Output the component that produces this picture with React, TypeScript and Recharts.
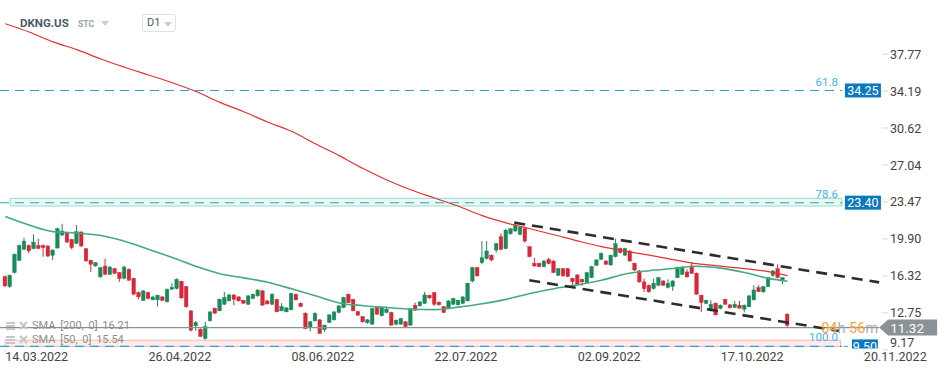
import React from "react";
import {
  ComposedChart,
  Bar,
  Line,
  XAxis,
  YAxis,
  ReferenceLine,
  ReferenceArea,
  ReferenceDot,
} from "recharts";

// ---------- DATA ----------
const DATE_TICKS = [0, 30, 60, 90, 120, 150, 180];
const DATE_LABELS = [
  "14.03.2022",
  "26.04.2022",
  "08.06.2022",
  "22.07.2022",
  "02.09.2022",
  "17.10.2022",
  "20.11.2022",
];
const PRICE_TICKS = [9.17, 12.75, 16.32, 19.9, 23.47, 27.04, 30.62, 34.19, 37.77];

// [open, high, low, close] per daily bar
const OHLC: number[][] = [
  [16.25, 16.35, 15.25, 15.35], [15.29, 16.45, 15.16, 16.38], [16.64, 18.5, 16.55, 18.41], [17.83, 19.35, 17.75, 19.27],
  [18.89, 20.01, 18.8, 19.69], [19.27, 19.35, 18.5, 18.73], [18.95, 20.33, 18.9, 19.59], [19.27, 19.92, 18.9, 18.98],
  [19.27, 19.35, 18.18, 19.05], [19.21, 19.3, 18.15, 18.24], [18.31, 18.9, 17.86, 18.82], [19.02, 21.0, 18.95, 20.88],
  [20.27, 21.36, 20.2, 20.66], [20.46, 20.6, 19.5, 19.59], [19.85, 19.9, 18.89, 19.05], [19.47, 21.23, 19.4, 20.59],
  [20.56, 20.65, 19.1, 19.21], [18.95, 19.0, 17.7, 17.76], [17.83, 17.9, 16.7, 17.44], [17.28, 17.65, 17.2, 17.6],
  [16.22, 17.2, 16.15, 17.12], [17.28, 17.99, 16.4, 16.47], [16.47, 17.25, 16.4, 17.18], [17.02, 17.1, 16.5, 16.57],
  [16.64, 16.7, 15.74, 16.06], [16.09, 17.3, 16.0, 17.18], [16.96, 17.05, 15.85, 15.9], [16.09, 16.15, 14.45, 14.55],
  [14.71, 14.8, 14.06, 14.29], [13.94, 14.95, 13.9, 14.87], [14.71, 14.8, 14.05, 14.13], [14.0, 14.35, 13.95, 14.29],
  [14.0, 14.5, 13.36, 14.45], [14.29, 14.35, 13.9, 13.94], [13.81, 15.1, 13.75, 15.03], [15.03, 15.61, 14.98, 15.22],
  [15.09, 16.09, 15.0, 15.99], [15.8, 15.85, 14.1, 14.19], [15.29, 15.35, 13.25, 13.33], [12.94, 13.0, 10.95, 11.07],
  [11.49, 11.97, 11.01, 11.81], [11.17, 11.25, 10.4, 10.46], [10.27, 11.88, 10.15, 11.43], [11.98, 12.9, 11.9, 12.84],
  [13.2, 13.26, 12.65, 12.71], [12.94, 14.13, 12.9, 14.06], [13.58, 14.77, 13.5, 14.23], [13.9, 14.6, 13.85, 14.48],
  [14.48, 14.55, 13.49, 14.06], [14.29, 14.35, 13.85, 13.9], [13.97, 14.0, 13.6, 13.68], [13.58, 14.45, 13.5, 14.39],
  [14.13, 14.6, 14.06, 14.55], [14.39, 15.0, 14.3, 14.96], [14.87, 14.95, 13.45, 13.49], [13.9, 14.0, 13.55, 13.61],
  [13.58, 14.65, 13.5, 14.55], [14.06, 14.1, 12.8, 12.84], [12.94, 13.68, 12.9, 13.36], [12.84, 13.3, 12.8, 13.23],
  [13.04, 14.7, 13.0, 14.64], [14.55, 14.6, 13.95, 14.0], [13.68, 13.75, 13.3, 13.36], [12.71, 12.8, 11.15, 11.23],
  [11.33, 11.95, 10.95, 11.88], [11.97, 12.8, 11.9, 12.71], [12.07, 12.14, 10.7, 10.75], [11.11, 11.6, 10.91, 11.56],
  [11.81, 12.6, 11.75, 12.55], [12.07, 12.9, 12.0, 12.84], [12.78, 13.5, 12.7, 13.42], [13.26, 14.3, 13.2, 14.23],
  [14.55, 14.61, 13.7, 13.74], [14.06, 14.1, 12.9, 12.94], [12.87, 12.95, 12.45, 12.52], [12.39, 12.45, 11.8, 11.88],
  [11.78, 12.15, 11.7, 12.07], [11.65, 13.2, 11.6, 13.16], [13.26, 13.4, 12.55, 12.62], [12.46, 13.3, 12.4, 13.26],
  [12.78, 13.36, 12.7, 13.1], [12.78, 12.85, 11.5, 11.56], [11.65, 12.1, 11.55, 12.04], [11.65, 12.25, 11.6, 12.2],
  [11.88, 11.95, 11.38, 11.43], [11.56, 13.2, 11.5, 13.16], [13.49, 13.74, 12.95, 13.0], [13.42, 13.85, 13.35, 13.81],
  [13.65, 14.77, 13.6, 14.48], [14.45, 14.5, 14.1, 14.19], [14.71, 14.75, 13.42, 13.58], [13.78, 13.85, 13.45, 13.52],
  [13.36, 13.4, 12.72, 12.78], [13.16, 13.95, 13.1, 13.9], [13.58, 14.2, 13.5, 14.13], [13.52, 14.0, 13.45, 13.97],
  [13.65, 14.35, 13.6, 14.29], [13.9, 15.67, 13.85, 15.61], [15.83, 17.2, 15.67, 17.12], [17.12, 17.2, 16.25, 16.32],
  [17.6, 19.69, 17.44, 18.08], [17.99, 19.69, 17.9, 18.73], [18.31, 18.4, 17.73, 17.86], [18.82, 19.5, 18.57, 19.43],
  [20.11, 20.43, 18.8, 18.89], [18.95, 20.88, 18.9, 20.75], [20.4, 20.95, 20.3, 20.88], [20.66, 21.52, 20.6, 21.2],
  [20.33, 21.1, 20.25, 21.04], [20.88, 20.95, 19.53, 19.69], [19.14, 19.2, 18.1, 18.18], [17.54, 18.08, 17.2, 17.28],
  [17.54, 17.6, 17.15, 17.22], [17.22, 17.85, 17.15, 17.76], [17.92, 18.08, 17.45, 17.5], [17.76, 17.85, 16.6, 16.64],
  [16.38, 17.1, 16.3, 17.02], [17.02, 17.1, 16.25, 16.32], [17.02, 17.1, 16.2, 16.25], [16.09, 16.15, 15.42, 15.77],
  [16.41, 16.5, 15.45, 15.51], [15.99, 16.05, 15.35, 15.74], [15.67, 16.7, 15.6, 16.64], [16.15, 17.3, 16.1, 17.22],
  [17.34, 17.95, 17.3, 17.86], [17.92, 18.6, 17.85, 18.5], [17.76, 17.85, 17.38, 17.44], [17.38, 18.4, 17.3, 18.31],
  [18.18, 19.92, 18.1, 19.43], [18.98, 19.05, 18.5, 18.57], [18.31, 19.05, 18.25, 18.98], [18.73, 18.8, 17.7, 17.76],
  [17.54, 17.6, 16.8, 16.89], [16.8, 16.9, 15.65, 15.74], [15.74, 16.06, 14.77, 15.09], [15.42, 15.5, 14.7, 14.77],
  [15.09, 16.06, 15.0, 15.61], [15.42, 16.2, 15.35, 16.15], [15.83, 15.9, 15.35, 15.42], [15.19, 15.99, 15.1, 15.61],
  [15.29, 15.9, 14.87, 15.83], [16.15, 17.2, 16.1, 17.12], [16.47, 17.25, 16.4, 17.18], [16.7, 16.96, 16.15, 16.22],
  [17.28, 17.66, 16.5, 16.57], [16.57, 16.65, 14.5, 14.55], [14.45, 14.5, 12.84, 13.74], [13.65, 14.0, 13.6, 13.97],
  [12.94, 13.97, 12.9, 13.58], [13.68, 13.75, 12.5, 12.55], [13.17, 13.55, 13.1, 13.49], [14.06, 14.1, 13.5, 13.58],
  [13.52, 13.6, 13.15, 13.23], [13.26, 13.9, 13.2, 13.58], [13.49, 13.9, 13.15, 13.2], [13.1, 13.55, 12.78, 13.49],
  [13.33, 14.45, 13.3, 14.39], [14.0, 15.42, 13.95, 14.96], [15.19, 15.42, 14.75, 14.8], [14.77, 15.35, 14.7, 15.29],
  [15.29, 16.2, 15.25, 16.15], [16.38, 16.9, 16.25, 16.8], [17.02, 17.44, 16.1, 16.15], [15.83, 16.2, 15.51, 16.15],
  [12.62, 12.7, 11.32, 11.55],
];

const SMA_INDEX = [0, 5, 10, 15, 20, 25, 30, 35, 40, 45, 50, 55, 60, 65, 70, 75, 80, 85, 90, 95, 100, 105, 110, 115, 120, 125, 130, 135, 140, 145, 150, 155, 160, 164];
const SMA200 = [40.7, 39.9, 38.95, 38.2, 37.3, 36.5, 35.75, 35.0, 34.15, 33.1, 32.2, 31.2, 30.3, 29.1, 27.95, 26.7, 25.6, 24.65, 23.85, 23.05, 22.15, 21.45, 20.88, 20.3, 19.7, 19.15, 18.72, 18.32, 17.9, 17.5, 17.26, 17.03, 16.74, 16.35];
const SMA50 = [22.07, 21.24, 20.6, 20.46, 20.23, 19.67, 18.9, 18.1, 17.24, 16.53, 16.13, 15.7, 15.07, 14.4, 13.7, 13.44, 13.26, 13.1, 13.06, 13.3, 13.62, 14.05, 14.62, 15.08, 15.45, 15.9, 16.5, 16.82, 17.03, 17.25, 17.07, 16.65, 16.08, 15.8];

const FIB_PRICES = [34.25, 23.4, 9.5];
const FIB_RATIOS = ["61.8", "78.6", "100.0"];
const LAST_PRICE = 11.32;
const SMA200_LAST = 16.21;
const SMA50_LAST = 15.54;
const UPPER_CHANNEL = [
  { x: 106.7, y: 21.47 },
  { x: 183.2, y: 15.69 },
];
const LOWER_CHANNEL = [
  { x: 109.85, y: 15.9 },
  { x: 174.8, y: 11.0 },
];
const FIB_END = 175.4;
const X_MIN = -1.11;
const X_MAX = 183.8;

// ---------- STYLE ----------
const GREEN = "#1b8a5a";
const RED = "#d62839";
const FONT = "Roboto, 'Noto Sans', sans-serif";

const data: any[] = OHLC.map(([o, h, l, c], i) => ({ i, open: o, high: h, low: l, close: c }));
SMA_INDEX.forEach((k, j) => {
  data[k].sma200 = SMA200[j];
  data[k].sma50 = SMA50[j];
});

const Candle = (props: any) => {
  const { x, y, width, height, payload } = props;
  if (!payload) return null;
  const { open, high, low, close } = payload;
  const top = Math.min(y, y + height);
  const h = Math.abs(height);
  const ppu = h / Math.max(high - low, 0.0001);
  const cx = x + width / 2;
  const yO = top + (high - open) * ppu;
  const yC = top + (high - close) * ppu;
  const up = close >= open;
  const color = up ? GREEN : RED;
  const bTop = Math.min(yO, yC);
  const bH = Math.max(1, Math.abs(yO - yC));
  return (
    <g>
      <line x1={cx} x2={cx} y1={top} y2={top + h} stroke={color} strokeWidth={1} />
      <rect x={cx - 1.8} y={bTop} width={3.6} height={bH} fill={color} stroke={color} strokeWidth={0.4} />
    </g>
  );
};

const YTick = (p: any) => {
  const { x, y, payload } = p;
  const yy = Math.min(y, 342);
  return (
    <text x={x} y={yy} dy={4.5} textAnchor="start" fill="#444" fontSize={12.5} fontFamily={FONT}>
      {Number(payload.value).toFixed(2)}
    </text>
  );
};

const XTick = (p: any) => {
  const { x, y, payload } = p;
  const idx = DATE_TICKS.indexOf(payload.value);
  return (
    <text x={x} y={y} dy={6} textAnchor="start" fill="#444" fontSize={12.5} fontFamily={FONT}>
      {DATE_LABELS[idx]}
    </text>
  );
};

const FibTag = (ratio: string, price: number, small: boolean) => (props: any) => {
  const { cx, cy } = props;
  if (cx == null || cy == null) return null;
  const id = "clip" + ratio.replace(".", "");
  return (
    <g>
      <text x={cx - 4} y={cy - (small ? 5.5 : 4.5)} textAnchor="end" fill="#43b2ee" fontSize={11.5} fontFamily={FONT}>
        {ratio}
      </text>
      {small ? (
        <g>
          <defs>
            <clipPath id={id}>
              <rect x={cx} y={cy - 8} width={50} height={10} />
            </clipPath>
          </defs>
          <line x1={cx + 2} x2={cx + 6} y1={cy} y2={cy} stroke="#2a9fd8" />
          <g clipPath={`url(#${id})`}>
            <rect x={cx + 10} y={cy - 7} width={26} height={14} fill="#0b79bf" />
            <text x={cx + 23} y={cy + 4.5} textAnchor="middle" fill="#fff" fontSize={12.5} fontFamily={FONT}>
              {price.toFixed(2)}
            </text>
          </g>
        </g>
      ) : (
        <g>
          <rect x={cx + 3} y={cy - 7} width={36} height={14} fill="#0b79bf" />
          <text x={cx + 21} y={cy + 4.5} textAnchor="middle" fill="#fff" fontSize={12.5} fontFamily={FONT}>
            {price.toFixed(2)}
          </text>
        </g>
      )}
    </g>
  );
};

const LastTag = (props: any) => {
  const { cx, cy } = props;
  if (cx == null || cy == null) return null;
  return (
    <g>
      <text x={cx - 1} y={cy + 5} textAnchor="end" fontSize={14.5} fontFamily={FONT}>
        <tspan fill="#f8a437">04</tspan>
        <tspan fill="#a9adb0">h </tspan>
        <tspan fill="#f8a437">56</tspan>
        <tspan fill="#a9adb0">m</tspan>
      </text>
      <polygon
        points={`${cx},${cy} ${cx + 9},${cy - 8} ${cx + 58},${cy - 8} ${cx + 58},${cy + 8} ${cx + 9},${cy + 8}`}
        fill="#8a9296"
      />
      <text x={cx + 11} y={cy + 5} textAnchor="start" fill="#fff" fontSize={13.5} fontFamily={FONT}>
        {LAST_PRICE.toFixed(2)}
      </text>
    </g>
  );
};

const LegendIcon = () => (
  <svg width={22} height={10} style={{ marginRight: 4 }}>
    <rect x={0} y={1} width={9} height={2} fill="#c4c8cb" />
    <rect x={0} y={4} width={9} height={2} fill="#c4c8cb" />
    <rect x={0} y={7} width={9} height={2} fill="#c4c8cb" />
    <path d="M14 1 L21 8 M21 1 L14 8" stroke="#c4c8cb" strokeWidth={2.2} />
  </svg>
);

export default function App() {
  return (
    <div
      style={{
        position: "absolute",
        left: 0,
        top: 0,
        width: 949,
        height: 373,
        background: "#fff",
        fontFamily: FONT,
        overflow: "hidden",
      }}
    >
      <ComposedChart
        width={949}
        height={373}
        data={data}
        margin={{ top: 0, right: 0, bottom: 0, left: 0 }}
      >
        <XAxis
          dataKey="i"
          type="number"
          domain={[X_MIN, X_MAX]}
          allowDataOverflow
          ticks={DATE_TICKS}
          interval={0}
          height={24}
          axisLine={false}
          tickLine={{ stroke: "#e6e6e6" }}
          tickSize={4}
          tick={<XTick />}
        />
        <YAxis
          orientation="right"
          type="number"
          domain={[9.25, 43.0]}
          allowDataOverflow
          ticks={PRICE_TICKS}
          interval={0}
          width={67}
          axisLine={false}
          tickLine={{ stroke: "#d9d9d9" }}
          tickSize={6}
          tick={<YTick />}
        />
        <ReferenceArea
          x1={1.0}
          x2={FIB_END}
          y1={23.08}
          y2={23.82}
          fill="#e9f8f2"
          fillOpacity={1}
          stroke="#93e0c3"
          strokeWidth={1}
          ifOverflow="visible"
        />
        <ReferenceArea
          x1={-0.06}
          x2={FIB_END - 0.3}
          y1={9.5}
          y2={10.1}
          fill="#fdeceb"
          fillOpacity={1}
          stroke="#f3b9b9"
          strokeWidth={1}
          ifOverflow="visible"
        />
        {FIB_PRICES.map((p) => (
          <ReferenceLine
            key={"fib" + p}
            segment={[
              { x: X_MIN, y: p },
              { x: FIB_END, y: p },
            ]}
            stroke="#2a9fd8"
            strokeWidth={1.1}
            strokeDasharray="9 6"
            ifOverflow="visible"
          />
        ))}
        <ReferenceLine
          segment={[
            { x: X_MIN, y: LAST_PRICE },
            { x: 183.2, y: LAST_PRICE },
          ]}
          stroke="#8a9296"
          strokeWidth={1.3}
          ifOverflow="visible"
        />
        <Line
          dataKey="sma200"
          type="monotone"
          stroke="#e5312f"
          strokeWidth={1.2}
          dot={false}
          activeDot={false}
          connectNulls
          isAnimationActive={false}
        />
        <Line
          dataKey="sma50"
          type="monotone"
          stroke="#46a982"
          strokeWidth={1.6}
          dot={false}
          activeDot={false}
          connectNulls
          isAnimationActive={false}
        />
        <Bar
          dataKey={(d: any) => [d.low, d.high]}
          barSize={4}
          shape={<Candle />}
          isAnimationActive={false}
        />
        <ReferenceLine
          segment={UPPER_CHANNEL}
          stroke="#2d2d2d"
          strokeWidth={2.6}
          strokeDasharray="11 7"
          ifOverflow="visible"
        />
        <ReferenceLine
          segment={LOWER_CHANNEL}
          stroke="#2d2d2d"
          strokeWidth={2.6}
          strokeDasharray="11 7"
          ifOverflow="visible"
        />
        {FIB_PRICES.map((p, j) => (
          <ReferenceDot
            key={"tag" + p}
            x={FIB_END}
            y={p}
            r={0}
            ifOverflow="visible"
            shape={FibTag(FIB_RATIOS[j], p, j === 2)}
          />
        ))}
        <ReferenceDot x={183.2} y={LAST_PRICE} r={0} ifOverflow="visible" shape={LastTag} />
      </ComposedChart>

      {/* header */}
      <div style={{ position: "absolute", left: 20, top: 16, fontSize: 11.5, fontWeight: 700, color: "#4c5a67" }}>
        DKNG.US
      </div>
      <div style={{ position: "absolute", left: 78, top: 19, fontSize: 8.5, fontWeight: 700, color: "#93a3b0" }}>
        STC
      </div>
      <div
        style={{
          position: "absolute",
          left: 101,
          top: 21,
          width: 0,
          height: 0,
          borderLeft: "4px solid transparent",
          borderRight: "4px solid transparent",
          borderTop: "5px solid #c8ced3",
        }}
      />
      <div
        style={{
          position: "absolute",
          left: 142,
          top: 14,
          width: 32,
          height: 16,
          border: "1px solid #dfe3e6",
          borderRadius: 3,
        }}
      >
        <div style={{ position: "absolute", left: 4, top: 1, fontSize: 11, color: "#4c5a67" }}>D1</div>
        <div
          style={{
            position: "absolute",
            left: 21,
            top: 7,
            width: 0,
            height: 0,
            borderLeft: "4px solid transparent",
            borderRight: "4px solid transparent",
            borderTop: "5px solid #c8ced3",
          }}
        />
      </div>

      {/* SMA legend */}
      <div style={{ position: "absolute", left: 6, top: 319, display: "flex", alignItems: "center", fontSize: 11, color: "#8d8d8d", whiteSpace: "pre", wordSpacing: 2 }}>
        <LegendIcon />
        <span>{`SMA [200, 0] ${SMA200_LAST.toFixed(2)}`}</span>
      </div>
      <div style={{ position: "absolute", left: 6, top: 333, display: "flex", alignItems: "center", fontSize: 11, color: "#8d8d8d", whiteSpace: "pre", wordSpacing: 2 }}>
        <LegendIcon />
        <span>{`SMA [50, 0] ${SMA50_LAST.toFixed(2)}`}</span>
      </div>
    </div>
  );
}
